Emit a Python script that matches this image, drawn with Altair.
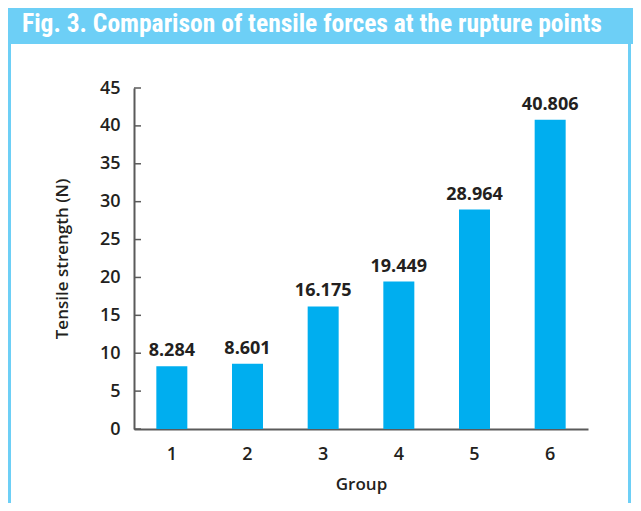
import altair as alt
import pandas as pd

groups = ["1", "2", "3", "4", "5", "6"]
values = [8.284, 8.601, 16.175, 19.449, 28.964, 40.806]
y_ticks = [0, 5, 10, 15, 20, 25, 30, 35, 40, 45]
title_text = "Fig. 3. Comparison of tensile forces at the rupture points"

df = pd.DataFrame({"Group": groups, "Value": values})
ticks_df = pd.DataFrame({"Value": y_ticks})
title_df = pd.DataFrame({"t": [title_text]})

FONT = "Open Sans"
TXT = "#231F20"
AX = "#5a5a5a"
CYAN = "#00AEEF"
LIGHT = "#6DCFF6"

y_scale = alt.Scale(domain=[0, 45], nice=False)

x_enc = alt.X("Group:N", sort=groups, scale=alt.Scale(paddingInner=0, paddingOuter=0),
              axis=alt.Axis(title="Group", labelAngle=0, ticks=False, domainColor=AX,
                            domainWidth=2, labelFont=FONT, labelFontSize=18,
                            labelFontWeight=600, labelColor=TXT, labelPadding=16,
                            titleFont=FONT, titleFontSize=17, titleFontWeight=600,
                            titleColor=TXT, titlePadding=13))
y_enc = alt.Y("Value:Q", scale=y_scale,
              axis=alt.Axis(title="Tensile strength (N)", values=y_ticks, ticks=False,
                            grid=False, domainColor=AX, domainWidth=2, labelFont=FONT,
                            labelFontSize=18, labelFontWeight=600, labelColor=TXT,
                            labelPadding=14, labelOverlap=False, labelFlush=False,
                            titleFont=FONT, titleFontSize=17,
                            titleFontWeight=600, titleColor=TXT, titlePadding=28))

bars = alt.Chart(df).mark_bar(color=CYAN, size=31).encode(x=x_enc, y=y_enc)
labels = alt.Chart(df).mark_text(dy=-15, font=FONT, fontSize=18, fontWeight="bold",
                                 color=TXT).encode(
    x=x_enc,
    y=y_enc,
    text=alt.Text("Value:Q", format=".3f"),
)
tick_marks = alt.Chart(ticks_df).mark_rule(color=AX, strokeWidth=1.5).encode(
    y=y_enc, x=alt.value(0), x2=alt.value(7)
)
banner = alt.Chart(title_df).mark_rect(color=LIGHT).encode(
    x=alt.value(-126), x2=alt.value(499), y=alt.value(-85), y2=alt.value(-44)
)
title = alt.Chart(title_df).mark_text(
    align="left", baseline="alphabetic",
    font="Liberation Sans Narrow, Roboto Condensed, DejaVu Sans Condensed, Roboto",
    fontSize=25.5, fontWeight="bold", color="white"
).encode(x=alt.value(-112), y=alt.value(-56), text="t:N")
border_l = alt.Chart(title_df).mark_rule(color=LIGHT, strokeWidth=3).encode(
    x=alt.value(-124.5), y=alt.value(-44), y2=alt.value(440)
)
border_r = alt.Chart(title_df).mark_rule(color=LIGHT, strokeWidth=3).encode(
    x=alt.value(495.5), y=alt.value(-44), y2=alt.value(440)
)

chart = alt.layer(banner, border_l, border_r, title, bars, tick_marks, labels).properties(
    width=454, height=341,
    autosize=alt.AutoSizeParams(type="none"),
    padding={"left": 126, "top": 80, "right": 45, "bottom": 74},
).configure_view(stroke=None)

chart.save("out.html", embed_options={"renderer": "svg", "actions": False})
